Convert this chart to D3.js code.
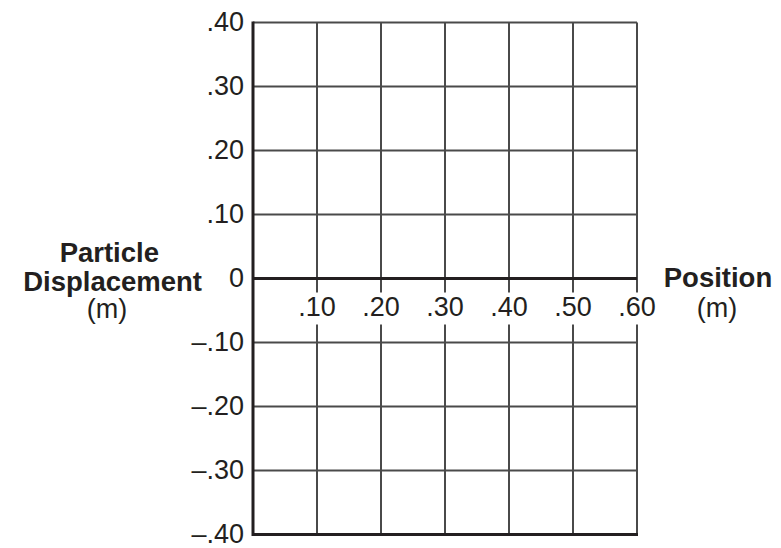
<!DOCTYPE html>
<html>
<head>
<meta charset="utf-8">
<script src="https://cdn.jsdelivr.net/npm/d3@7"></script>
<style>
  body { margin: 0; background: #fff; }
  text { font-family: "Liberation Sans", Arial, sans-serif; fill: #231f20; }
</style>
</head>
<body>
<div id="chart"></div>
<script>
// position values (m) for the vertical grid lines
const xTicks = [0, 0.10, 0.20, 0.30, 0.40, 0.50, 0.60];
const xTickLabels = ["", ".10", ".20", ".30", ".40", ".50", ".60"];
// displacement values (m) for the horizontal grid lines
const yTicks = [0.40, 0.30, 0.20, 0.10, 0, -0.10, -0.20, -0.30, -0.40];
const yTickLabels = [".40", ".30", ".20", ".10", "0", "\u2013.10", "\u2013.20", "\u2013.30", "\u2013.40"];

const width = 781, height = 548;
const margin = { top: 22.5, right: 144, bottom: 13.5, left: 253 };

const svg = d3.select("#chart").append("svg")
    .attr("width", width)
    .attr("height", height);

const xScale = d3.scaleLinear()
    .domain([0, 0.60])
    .range([margin.left, width - margin.right]);

const yScale = d3.scaleLinear()
    .domain([-0.40, 0.40])
    .range([height - margin.bottom, margin.top]);

const gridColor = "#4a4a4a";
const axisColor = "#231f20";

// vertical grid
svg.append("g")
    .selectAll("line")
    .data(xTicks.slice(1))
    .enter().append("line")
        .attr("x1", d => xScale(d))
        .attr("x2", d => xScale(d))
        .attr("y1", yScale(0.40))
        .attr("y2", yScale(-0.40))
        .attr("stroke", gridColor)
        .attr("stroke-width", 2);

// horizontal grid
svg.append("g")
    .selectAll("line")
    .data(yTicks.filter(d => d !== 0 && d !== -0.40))
    .enter().append("line")
        .attr("x1", xScale(0))
        .attr("x2", xScale(0.60))
        .attr("y1", d => yScale(d))
        .attr("y2", d => yScale(d))
        .attr("stroke", gridColor)
        .attr("stroke-width", 2);

// x tick labels sit on the grid lines, with white behind them
const xLab = svg.append("g");
xTicks.forEach((d, i) => {
    if (!xTickLabels[i]) return;
    xLab.append("rect")
        .attr("x", xScale(d) - 22)
        .attr("y", yScale(0) + 14)
        .attr("width", 44)
        .attr("height", 32)
        .attr("fill", "#fff");
    xLab.append("text")
        .attr("x", xScale(d))
        .attr("y", yScale(0) + 37)
        .attr("text-anchor", "middle")
        .style("font-size", "27px")
        .text(xTickLabels[i]);
});

// heavy lines: zero line, left axis, bottom
svg.append("line")
    .attr("x1", xScale(0)).attr("x2", xScale(0.60))
    .attr("y1", yScale(0)).attr("y2", yScale(0))
    .attr("stroke", axisColor).attr("stroke-width", 3);
svg.append("line")
    .attr("x1", xScale(0)).attr("x2", xScale(0.60) + 1)
    .attr("y1", yScale(-0.40)).attr("y2", yScale(-0.40))
    .attr("stroke", axisColor).attr("stroke-width", 3);
svg.append("line")
    .attr("x1", xScale(0)).attr("x2", xScale(0))
    .attr("y1", yScale(0.40) - 1).attr("y2", yScale(-0.40) + 1.5)
    .attr("stroke", axisColor).attr("stroke-width", 3);

// y tick labels
svg.append("g")
    .selectAll("text")
    .data(yTicks)
    .enter().append("text")
        .attr("x", xScale(0) - 9)
        .attr("y", d => yScale(d) + 8.5)
        .attr("text-anchor", "end")
        .style("font-size", "27px")
        .text((d, i) => yTickLabels[i]);

// axis titles
const yTitle = svg.append("g");
yTitle.append("text").attr("x", 159).attr("y", 262)
    .attr("text-anchor", "end").style("font-size", "27.5px").style("font-weight", "bold")
    .text("Particle");
yTitle.append("text").attr("x", 202).attr("y", 291)
    .attr("text-anchor", "end").style("font-size", "27.5px").style("font-weight", "bold")
    .text("Displacement");
yTitle.append("text").attr("x", 107).attr("y", 318)
    .attr("text-anchor", "middle").style("font-size", "27px")
    .text("(m)");

const xTitle = svg.append("g");
xTitle.append("text").attr("x", 718).attr("y", 287)
    .attr("text-anchor", "middle").style("font-size", "27.5px").style("font-weight", "bold")
    .text("Position");
xTitle.append("text").attr("x", 717).attr("y", 317)
    .attr("text-anchor", "middle").style("font-size", "27px")
    .text("(m)");
</script>
</body>
</html>
